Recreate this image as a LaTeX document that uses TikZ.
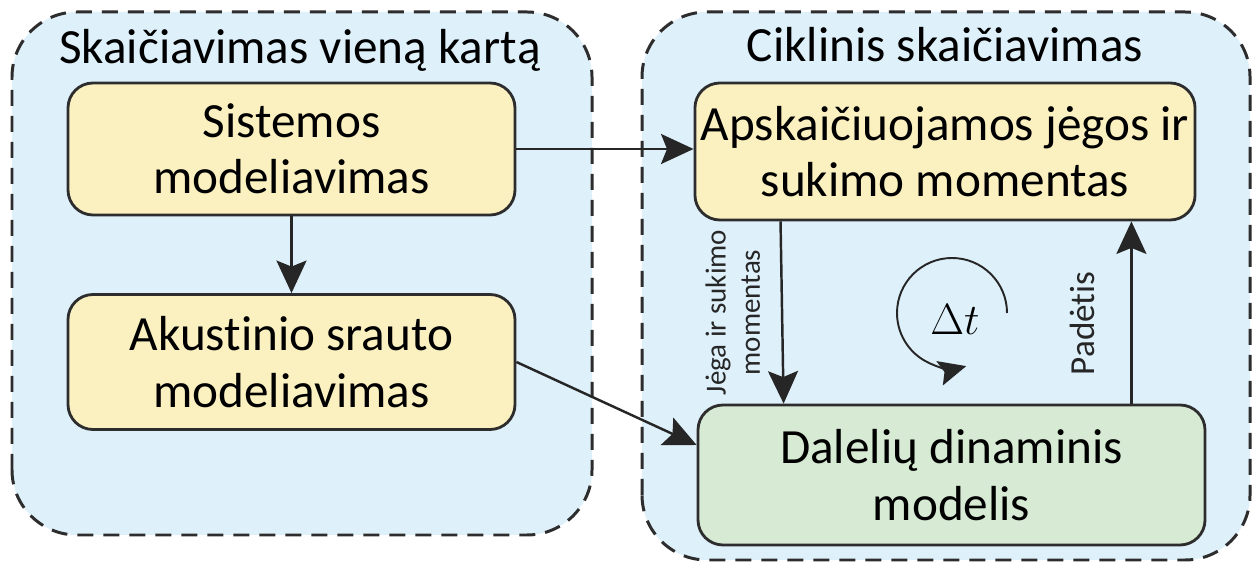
\documentclass[tikz,border=0pt]{standalone}
\usepackage{fontspec}
\setmainfont{Carlito}[Ligatures=NoCommon]
\usepackage{tikz}
\usetikzlibrary{arrows.meta}
\definecolor{groupCol}{RGB}{222, 240, 250}
\definecolor{yellowCol}{RGB}{250, 240, 192}
\definecolor{greenCol}{RGB}{214, 234, 212}
\definecolor{lineCol}{RGB}{45, 45, 45}
\tikzset{myGroup/.style={draw=lineCol, fill=groupCol, line width=1.7pt, dash pattern=on 0.32cm off 0.2cm, rounded corners=1.3cm}}
\tikzset{myTitle/.style={font=\fontsize{28}{32}\selectfont}}
\tikzset{myBox/.style={draw=lineCol, fill=yellowCol, line width=1.6pt, rounded corners=0.5cm, align=center, font=\fontsize{28}{32}\selectfont}}
\tikzset{myArrow/.style={line width=1.4pt, color=black!85, -{Stealth[length=0.65cm, width=0.6cm, inset=0.12cm]}}}
\tikzset{myLabel/.style={align=center, font=\fontsize{16.5}{19.5}\selectfont}}

\begin{document}
\begin{tikzpicture}[]
	\useasboundingbox (0,0) rectangle (25.12,11.32);
	% groups
	\draw[myGroup] (0.24,0.62) rectangle (11.84,11.08);
	\draw[myGroup] (12.84,0.12) rectangle (25.0,11.08);
	\node[myTitle] (leftTitle) at (6.0,10.32) {Skaičiavimas vieną kartą};
	\node[myTitle] (rightTitle) at (18.9,10.42) {Ciklinis skaičiavimas};

	% boxes
	\node[myBox, minimum width=8.94cm, minimum height=2.64cm] (sysBox) at (5.83,8.34) {Sistemos\\modeliavimas};
	\node[myBox, minimum width=8.94cm, minimum height=2.7cm] (flowBox) at (5.83,4.08) {Akustinio srauto\\modeliavimas};
	\node[myBox, minimum width=9.88cm, minimum height=2.74cm] (forceBox) at (18.9,8.29) {Apskaičiuojamos jėgos ir\\sukimo momentas};
	\node[myBox, fill=greenCol, minimum width=10.14cm, minimum height=2.8cm] (dynBox) at (19.03,1.82) {Dalelių dinaminis\\modelis};

	% connectors
	\draw[myArrow] (sysBox.south) -- (flowBox.north);
	\draw[myArrow] (sysBox.east) -- (sysBox.east -| forceBox.west);
	\draw[myArrow] (flowBox.east) -- ([yshift=0.6cm]dynBox.west);
	\draw[myArrow] ([xshift=1.74cm]forceBox.south west) -- ([xshift=1.74cm]dynBox.north west)node[midway, rotate=90, anchor=south, yshift=0.3cm, myLabel]{Jėga ir sukimo\\momentas};
	\draw[myArrow] ([xshift=-1.5cm]dynBox.north east) -- ([xshift=-1.5cm]dynBox.north east |- forceBox.south)node[pos=0.44, rotate=90, anchor=south, yshift=0.6cm, myLabel, font=\fontsize{20}{24}\selectfont]{Padėtis};

	% time step
	\coordinate (loopC) at (19.04,5.06);
	\draw[myArrow, line width=1.1pt, -{Stealth[length=0.55cm, width=0.5cm, inset=0.1cm]}] ([xshift=1.1cm]loopC) arc[start angle=0, end angle=285, radius=1.1cm];
	\node[font=\fontsize{26}{30}\selectfont] (dtLabel) at (19.1,4.92) {$\Delta t$};
\end{tikzpicture}
\end{document}
